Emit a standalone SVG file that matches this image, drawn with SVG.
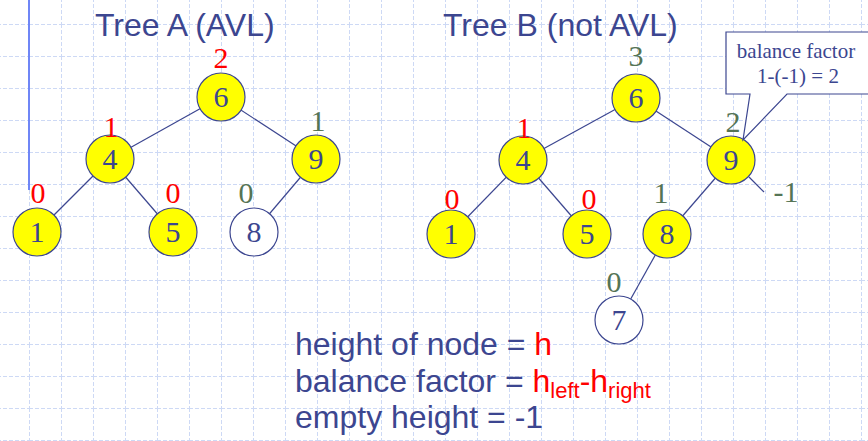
<svg xmlns="http://www.w3.org/2000/svg" width="868" height="441" viewBox="0 0 868 441">
<defs>
<pattern id="grid" x="-3" y="-8" width="32" height="32" patternUnits="userSpaceOnUse">
<path d="M0,0.5 H32 M0.5,0 V32" fill="none" stroke="#cdd9f5" stroke-width="1" stroke-dasharray="4 2"/>
</pattern>
</defs>
<style>
.title{font-family:"Liberation Sans",Arial,sans-serif;font-size:32px;fill:#3c4690}
.note{font-family:"Liberation Sans",Arial,sans-serif;font-size:32px;fill:#3c4690}
.red{fill:#ff0000}
.sub{font-size:22px}
.node circle{stroke:#3c4690;stroke-width:1.2}
.yel{fill:#ffff00}
.wht{fill:#ffffff}
.key{font-family:"Liberation Serif","Times New Roman",serif;font-size:30px;fill:#3c4690;text-anchor:middle}
.lbl{font-family:"Liberation Serif","Times New Roman",serif;font-size:30px;text-anchor:middle}
.lr{fill:#ff0000}
.lg{fill:#557455}
.edges line{stroke:#3c4690;stroke-width:1.2}
.call{font-family:"Liberation Serif","Times New Roman",serif;font-size:21px;fill:#3c4690;text-anchor:middle}
</style>
<rect width="868" height="441" fill="#ffffff"/>
<rect width="868" height="441" fill="url(#grid)"/>
<line x1="29" y1="0" x2="29" y2="190" stroke="#6f86f6" stroke-width="2"/>

<text class="title" x="95" y="36">Tree A (AVL)</text>
<text class="title" x="443" y="36">Tree B (not AVL)</text>

<g id="connectors" class="edges">
<line x1="221" y1="97" x2="110" y2="159"/>
<line x1="221" y1="97" x2="316" y2="159"/>
<line x1="110" y1="159" x2="37" y2="232"/>
<line x1="110" y1="159" x2="173" y2="232"/>
<line x1="316" y1="159" x2="254" y2="232"/>
<line x1="636" y1="98" x2="523" y2="160"/>
<line x1="636" y1="98" x2="731" y2="160"/>
<line x1="523" y1="160" x2="451" y2="234"/>
<line x1="523" y1="160" x2="587" y2="234"/>
<line x1="731" y1="160" x2="667" y2="234"/>
<line x1="667" y1="234" x2="619" y2="320"/>
<line x1="749" y1="177" x2="764" y2="192"/>
</g>

<g id="a6" class="node"><circle class="yel" cx="221" cy="97" r="24"/><text class="key" x="221" y="107">6</text><text class="lbl lr" x="221" y="68">2</text></g>
<g id="a4" class="node"><circle class="yel" cx="110" cy="159" r="24"/><text class="key" x="110" y="169">4</text><text class="lbl lr" x="111" y="137">1</text></g>
<g id="a9" class="node"><circle class="yel" cx="316" cy="159" r="24"/><text class="key" x="316" y="169">9</text><text class="lbl lg" x="318" y="131">1</text></g>
<g id="a1" class="node"><circle class="yel" cx="37" cy="232" r="24"/><text class="key" x="37" y="242">1</text><text class="lbl lr" x="38" y="203">0</text></g>
<g id="a5" class="node"><circle class="yel" cx="173" cy="232" r="24"/><text class="key" x="173" y="242">5</text><text class="lbl lr" x="173" y="203">0</text></g>
<g id="a8" class="node"><circle class="wht" cx="254" cy="232" r="24"/><text class="key" x="254" y="242">8</text><text class="lbl lg" x="246" y="203">0</text></g>

<g id="b6" class="node"><circle class="yel" cx="636" cy="98" r="24"/><text class="key" x="636" y="108">6</text><text class="lbl lg" x="636" y="66">3</text></g>
<g id="b4" class="node"><circle class="yel" cx="523" cy="160" r="24"/><text class="key" x="523" y="170">4</text><text class="lbl lr" x="524" y="138">1</text></g>
<g id="b9" class="node"><circle class="yel" cx="731" cy="160" r="24"/><text class="key" x="731" y="170">9</text><text class="lbl lg" x="733" y="132">2</text><text class="lbl lg" x="786" y="202">-1</text></g>
<g id="b1" class="node"><circle class="yel" cx="451" cy="234" r="24"/><text class="key" x="451" y="244">1</text><text class="lbl lr" x="452" y="209">0</text></g>
<g id="b5" class="node"><circle class="yel" cx="587" cy="234" r="24"/><text class="key" x="587" y="244">5</text><text class="lbl lr" x="589" y="209">0</text></g>
<g id="b8" class="node"><circle class="yel" cx="667" cy="234" r="24"/><text class="key" x="667" y="244">8</text><text class="lbl lg" x="661" y="203">1</text></g>
<g id="b7" class="node"><circle class="wht" cx="619" cy="320" r="24"/><text class="key" x="619" y="330">7</text><text class="lbl lg" x="614" y="292">0</text></g>

<g id="callout">
<path d="M726,32 H870 V94 H787 L743,140 L750,94 H726 Z" fill="#ffffff" stroke="#3c4690" stroke-width="1.2"/>
<text class="call" x="796" y="58">balance factor</text>
<text class="call" x="798" y="83">1-(-1) = 2</text>
</g>

<text class="note" x="295" y="355">height of node = <tspan class="red">h</tspan></text>
<text class="note" x="295" y="392">balance factor = <tspan class="red">h<tspan class="sub" dy="6">left</tspan><tspan dy="-6">-h</tspan><tspan class="sub" dy="6">right</tspan></tspan></text>
<text class="note" x="295" y="428">empty height = -1</text>
</svg>
